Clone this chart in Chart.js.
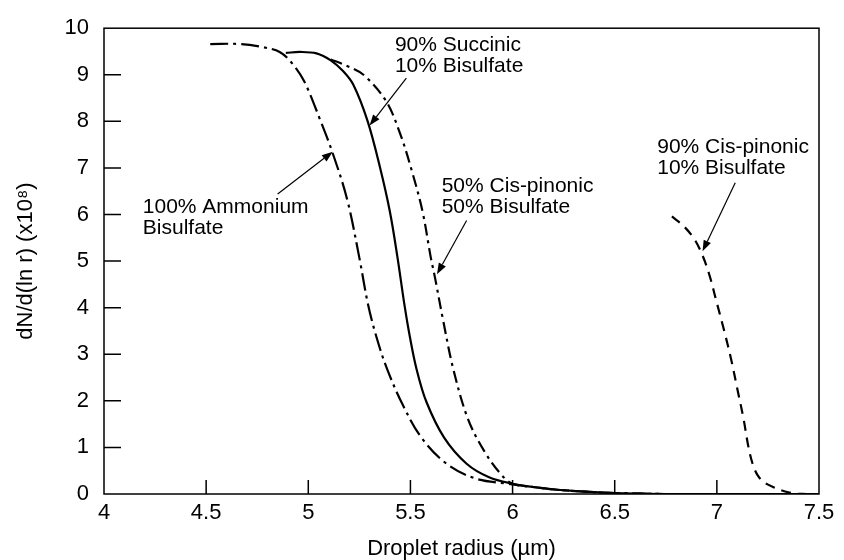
<!DOCTYPE html>
<html>
<head>
  <meta charset="utf-8">
  <script src="https://cdn.jsdelivr.net/npm/chart.js@4.4.1/dist/chart.umd.min.js"></script>
  <style>
    html, body { margin: 0; padding: 0; background: #fff; }
    .wrap { width: 844px; height: 560px; position: relative; }
  </style>
</head>
<body>
  <div class="wrap">
    <canvas id="dropChart" width="844" height="560"></canvas>
  </div>

  <script>
    // droplet radius (um) / dN/d(ln r) (x10^8)
    const ammoniumR = [4.52, 4.67, 4.78, 4.86, 4.92, 4.98, 5.06, 5.12, 5.19, 5.25, 5.292, 5.333, 5.386, 5.463, 5.554, 5.677, 5.82, 5.98, 6.1, 6.25, 6.5, 6.75, 7.0, 7.5];
    const ammoniumN = [9.66, 9.66, 9.59, 9.49, 9.25, 8.86, 8.01, 7.31, 6.33, 5.07, 4.08, 3.38, 2.68, 1.91, 1.21, 0.65, 0.33, 0.22, 0.15, 0.08, 0.02, 0.0, 0.0, 0.0];

    const succinicR = [4.89, 4.96, 5.04, 5.11, 5.17, 5.22, 5.29, 5.35, 5.40, 5.437, 5.47, 5.497, 5.53, 5.578, 5.665, 5.775, 5.885, 6.0, 6.1, 6.25, 6.5, 6.75, 7.0, 7.5];
    const succinicN = [9.47, 9.49, 9.46, 9.31, 9.08, 8.79, 8.01, 7.03, 6.05, 5.07, 4.08, 3.38, 2.68, 1.98, 1.21, 0.65, 0.36, 0.22, 0.15, 0.08, 0.02, 0.0, 0.0, 0.0];

    const cis50R = [5.11, 5.19, 5.27, 5.38, 5.45, 5.51, 5.56, 5.60, 5.62, 5.66, 5.71, 5.78, 5.86, 5.94, 6.0, 6.1, 6.25, 6.5, 6.75, 7.0, 7.5];
    const cis50N = [9.33, 9.19, 9.0, 8.44, 7.73, 6.89, 6.05, 5.07, 4.65, 3.73, 2.68, 1.63, 0.93, 0.44, 0.22, 0.15, 0.08, 0.02, 0.0, 0.0, 0.0];

    const cis90R = [6.78, 6.84, 6.89, 6.93, 6.965, 7.00, 7.035, 7.07, 7.10, 7.13, 7.155, 7.175, 7.20, 7.235, 7.28, 7.33, 7.38, 7.44];
    const cis90N = [5.96, 5.74, 5.47, 5.12, 4.68, 4.10, 3.52, 2.89, 2.26, 1.63, 1.00, 0.65, 0.40, 0.24, 0.14, 0.06, 0.01, 0.0];

    const xTicks = [4, 4.5, 5, 5.5, 6, 6.5, 7, 7.5];
    const yTicks = [0, 1, 2, 3, 4, 5, 6, 7, 8, 9, 10];

    // label text, where it sits and where its arrow points (data units)
    const notes = [
      { lines: ['90% Succinic', '10% Bisulfate'], at: [5.424, 9.64], from: [5.48, 8.93], to: [5.30, 7.91] },
      { lines: ['100% Ammonium', 'Bisulfate'], at: [4.19, 6.15], from: [4.85, 6.44], to: [5.12, 7.35] },
      { lines: ['50% Cis-pinonic', '50% Bisulfate'], at: [5.653, 6.61], from: [5.775, 5.87], to: [5.63, 4.72] },
      { lines: ['90% Cis-pinonic', '10% Bisulfate'], at: [6.708, 7.45], from: [7.09, 6.68], to: [6.93, 5.21] }
    ];

    const FONT = "'Liberation Sans', Arial, Helvetica, sans-serif";
    const pts = (r, n) => r.map((x, i) => ({ x: x, y: n[i] }));

    const line = (label, r, n, dash) => ({
      label: label,
      data: pts(r, n),
      showLine: true,
      borderColor: '#000',
      borderWidth: 2.2,
      borderDash: dash,
      pointRadius: 0,
      tension: 0.35,
      fill: false
    });

    const frameAndNotes = {
      id: 'frameAndNotes',
      afterDraw(chart) {
        const ctx = chart.ctx;
        const a = chart.chartArea;
        const xs = chart.scales.x, ys = chart.scales.y;
        ctx.save();
        ctx.strokeStyle = '#000';
        ctx.lineWidth = 1.5;
        ctx.setLineDash([]);
        ctx.strokeRect(a.left, a.top, a.right - a.left, a.bottom - a.top);

        // inward tick marks
        ctx.beginPath();
        xs.ticks.forEach(t => {
          if (t.value <= xs.min || t.value >= xs.max) return;
          const px = xs.getPixelForValue(t.value);
          ctx.moveTo(px, a.bottom);
          ctx.lineTo(px, a.bottom - 14);
        });
        ys.ticks.forEach(t => {
          if (t.value <= ys.min || t.value >= ys.max) return;
          const py = ys.getPixelForValue(t.value);
          ctx.moveTo(a.left, py);
          ctx.lineTo(a.left + 17, py);
        });
        ctx.stroke();

        // labels + arrows
        ctx.fillStyle = '#000';
        ctx.font = '21px ' + FONT;
        ctx.textAlign = 'left';
        ctx.textBaseline = 'middle';
        notes.forEach(nt => {
          const lx = xs.getPixelForValue(nt.at[0]);
          const ly = ys.getPixelForValue(nt.at[1]);
          nt.lines.forEach((s, i) => ctx.fillText(s, lx, ly + i * 21));

          const x0 = xs.getPixelForValue(nt.from[0]), y0 = ys.getPixelForValue(nt.from[1]);
          const x1 = xs.getPixelForValue(nt.to[0]), y1 = ys.getPixelForValue(nt.to[1]);
          const ang = Math.atan2(y1 - y0, x1 - x0);
          const len = 11, half = 4;
          const bx = x1 - len * Math.cos(ang), by = y1 - len * Math.sin(ang);
          ctx.lineWidth = 1.2;
          ctx.beginPath();
          ctx.moveTo(x0, y0);
          ctx.lineTo(bx, by);
          ctx.stroke();
          ctx.beginPath();
          ctx.moveTo(x1, y1);
          ctx.lineTo(bx + half * Math.sin(ang), by - half * Math.cos(ang));
          ctx.lineTo(bx - half * Math.sin(ang), by + half * Math.cos(ang));
          ctx.closePath();
          ctx.fill();
        });
        ctx.restore();
      }
    };

    new Chart(document.getElementById('dropChart'), {
      type: 'scatter',
      data: {
        datasets: [
          line('100% Ammonium Bisulfate', ammoniumR, ammoniumN, [18, 5, 3, 5]),
          line('90% Succinic 10% Bisulfate', succinicR, succinicN, []),
          line('50% Cis-pinonic 50% Bisulfate', cis50R, cis50N, [12, 5, 3, 5]),
          line('90% Cis-pinonic 10% Bisulfate', cis90R, cis90N, [10, 7])
        ]
      },
      plugins: [frameAndNotes],
      options: {
        responsive: false,
        animation: false,
        layout: { padding: { top: 18, right: 25, bottom: 0, left: 0 } },
        plugins: {
          legend: { display: false },
          tooltip: { enabled: false }
        },
        scales: {
          x: {
            type: 'linear',
            min: 4,
            max: 7.5,
            afterBuildTicks: s => { s.ticks = xTicks.map(v => ({ value: v })); },
            afterFit: s => { s.height = 66; },
            grid: { display: false, drawTicks: false },
            border: { display: false },
            ticks: {
              color: '#000', padding: 6, autoSkip: false, maxRotation: 0,
              font: { family: FONT, size: 22 },
              callback: v => String(v)
            },
            title: {
              display: true,
              text: 'Droplet radius (µm)',
              color: '#000',
              padding: { top: 0, bottom: 0 },
              font: { family: FONT, size: 22, lineHeight: 1 }
            }
          },
          y: {
            min: 0,
            max: 10,
            afterBuildTicks: s => { s.ticks = yTicks.map(v => ({ value: v })); },
            afterFit: s => { s.width = 104; },
            grid: { display: false, drawTicks: false },
            border: { display: false },
            ticks: {
              color: '#000', padding: 15, autoSkip: false,
              font: { family: FONT, size: 22 },
              callback: v => String(v)
            },
            title: {
              display: true,
              text: 'dN/d(ln r) (x10⁸)',
              color: '#000',
              padding: { top: 13, bottom: 0 },
              font: { family: FONT, size: 22 }
            }
          }
        }
      }
    });
  </script>
</body>
</html>
